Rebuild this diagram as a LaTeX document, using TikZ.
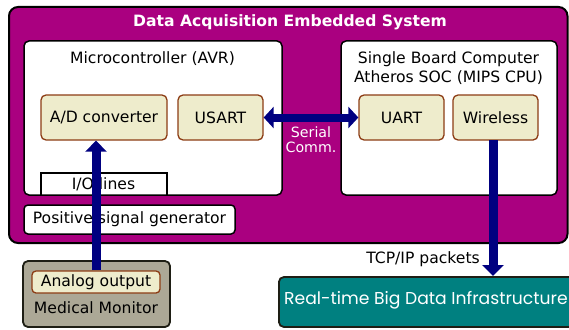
\documentclass[tikz,border=0pt]{standalone}
\usepackage{fontspec}
\setmainfont{DejaVu Sans}
\newfontfamily\geofont{Poppins}
\usetikzlibrary{arrows.meta}
\definecolor{purp}{RGB}{170,0,128}
\definecolor{beige}{RGB}{238,236,204}
\definecolor{brownb}{RGB}{140,60,20}
\definecolor{khaki}{RGB}{172,168,150}
\definecolor{tealc}{RGB}{0,128,128}
\definecolor{navyc}{RGB}{0,0,128}
\definecolor{darkb}{RGB}{30,30,20}
\tikzset{
  txt/.style={font=\fontsize{15.6}{18}\selectfont},
  box/.style={draw=black,line width=1.5pt,rounded corners=5pt,fill=white},
  comp/.style={draw=brownb,line width=1.3pt,rounded corners=5pt,fill=beige,txt,inner sep=0pt},
  lbl/.style={txt,inner sep=0pt},
  bigarrow/.style={navyc,line width=9pt,-{Triangle[length=11pt,width=21pt]}},
  dblarrow/.style={navyc,line width=8pt,{Triangle[length=10pt,width=21pt]}-{Triangle[length=10pt,width=21pt]}},
}
\begin{document}
\begin{tikzpicture}[x=1pt,y=-1pt]
\useasboundingbox (0,0) rectangle (569,329);
% outer
\draw[draw=black,fill=purp,rounded corners=9pt,line width=2pt] (9,7) rectangle (567.5,243);
\node[lbl,text=white,font=\bfseries\fontsize{15.6}{18}\selectfont] (title) at (290,22) {Data Acquisition Embedded System};
% microcontroller
\draw[box] (24,41) rectangle (282,195);
\node[lbl] (mctitle) at (152.5,59) {Microcontroller (AVR)};
\node[comp,minimum width=126pt,minimum height=45pt] (adc) at (104,117.5) {A/D converter};
\node[comp,minimum width=85pt,minimum height=45pt] (usart) at (220.5,117.5) {USART};
\draw[black,line width=1.3pt] (41,195) -- (41,173) -- (167,173) -- (167,195);
\node[lbl] (io) at (103.5,184) {I/O lines};
% positive signal generator
\node[box,minimum width=211pt,minimum height=29pt,inner sep=0pt,txt,rounded corners=4pt] (psg) at (129.5,219.5) {Positive signal generator};
% SBC
\draw[box] (341,41) rectangle (557,195);
\node[lbl] (sbct) at (448.5,59) {Single Board Computer};
\node[lbl] (sbct2) at (448.5,78) {Atheros SOC (MIPS CPU)};
\node[comp,minimum width=85pt,minimum height=45pt] (uart) at (401.5,117.5) {UART};
\node[comp,minimum width=85pt,minimum height=45pt] (wl) at (495.5,117.5) {Wireless};
% serial
\draw[dblarrow] (usart.east) -- (uart.west);
\node[text=white,align=center,font=\fontsize{14.2}{15}\selectfont,inner sep=0pt] (serial) at (311,139.5) {Serial\\Comm.};
% medical monitor
\node[draw=darkb,line width=1.8pt,rounded corners=5pt,fill=khaki,minimum width=147pt,minimum height=66pt] (mm) at (96.5,294) {};
\node[comp,minimum width=128pt,minimum height=22pt,rounded corners=4pt] (ao) at (96,282) {Analog output};
\node[lbl] (mmt) at (96,308) {Medical Monitor};
% real-time
\node[draw=darkb,line width=1.8pt,rounded corners=5pt,fill=tealc,minimum width=320pt,minimum height=50pt,anchor=west] (rt) at (278,302) {};
\node[text=white,font=\geofont\fontsize{17.2}{20}\selectfont,anchor=west,inner sep=0pt] (rtt) at (284,300.5) {Real-time Big Data Infrastructure};
% arrows
\draw[bigarrow] (ao.north) -- (ao.north |- adc.south);
\coordinate (wlb) at (493,140);
\coordinate (rtin) at (493,276);
\draw[bigarrow] (wlb) -- (rtin);
\node[lbl] (tcp) at (423,259) {TCP/IP packets};
\end{tikzpicture}
\end{document}
